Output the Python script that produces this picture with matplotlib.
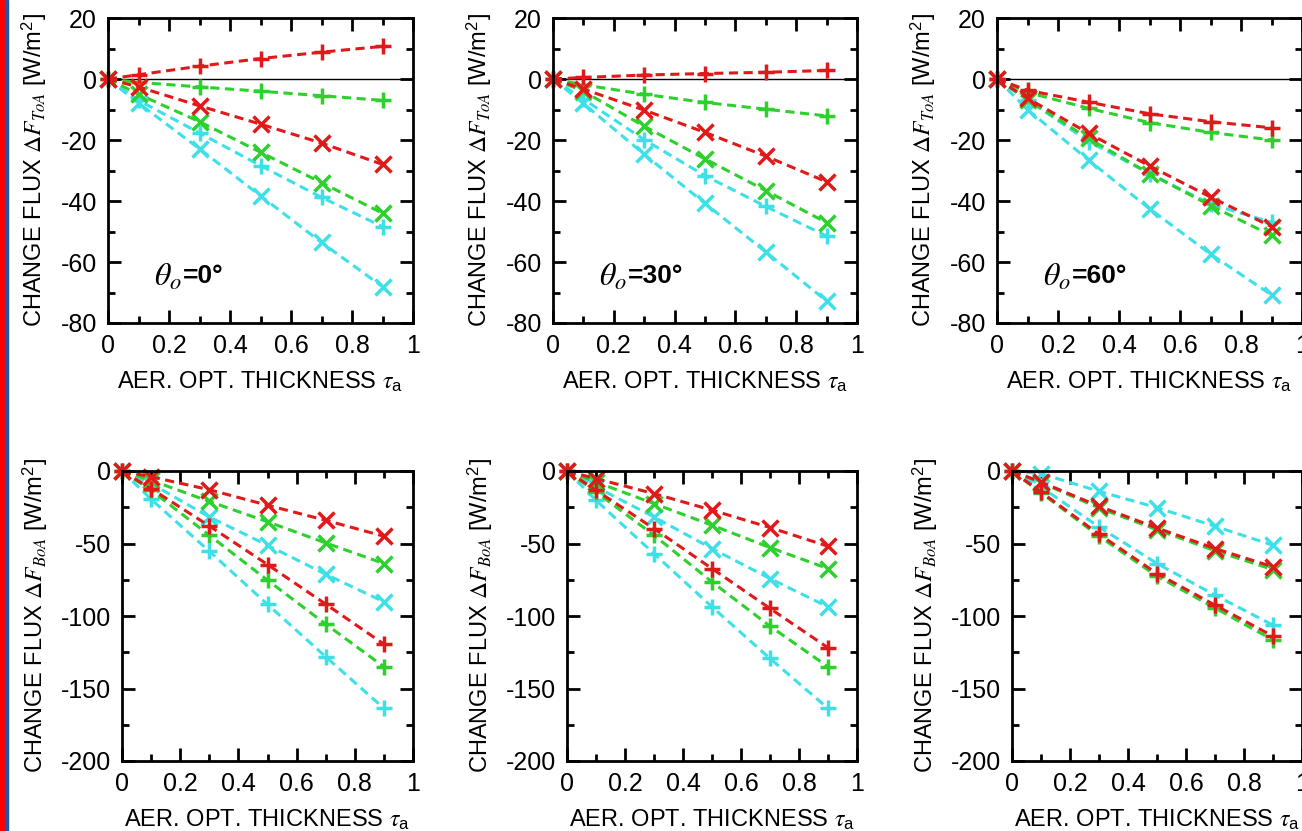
import matplotlib
matplotlib.use("Agg")
from matplotlib import pyplot as plt
from matplotlib.patches import Rectangle
from matplotlib.ticker import MultipleLocator

#Data : aerosol optical thickness and flux changes
TAU = [0, 0.1, 0.3, 0.5, 0.7, 0.9]
ANGLES = [0, 30, 60]

#order of the rows : red +, green +, cyan +, red x, green x, cyan x
toa_0 = [[0, 1.4, 4.2, 6.7, 8.8, 10.7],
         [0, -1.1, -2.6, -4.0, -5.5, -7.0],
         [0, -7.0, -17.7, -28.4, -38.8, -48.4],
         [0, -2.6, -8.8, -14.8, -21.0, -28.0],
         [0, -5.0, -14.0, -24.0, -34.0, -44.0],
         [0, -7.9, -22.9, -38.3, -53.6, -68.1]]
toa_30 = [[0, 0.5, 1.3, 1.8, 2.2, 2.8],
          [0, -1.9, -5.0, -7.7, -9.9, -12.1],
          [0, -6.6, -19.9, -31.7, -41.8, -51.5],
          [0, -3.3, -10.2, -17.5, -25.3, -33.7],
          [0, -4.0, -15.5, -26.2, -36.6, -47.1],
          [0, -8.0, -24.7, -40.8, -56.7, -72.8]]
toa_60 = [[0, -3.7, -7.6, -11.4, -14.0, -16.0],
          [0, -4.4, -9.6, -14.3, -17.5, -20.0],
          [0, -6.8, -20.5, -31.0, -41.0, -47.0],
          [0, -6.3, -17.8, -28.5, -38.7, -48.4],
          [0, -6.8, -19.5, -31.0, -41.5, -51.3],
          [0, -10.0, -26.6, -42.5, -57.4, -70.8]]
boa_0 = [[0, -12.2, -37.9, -64.5, -91.8, -119.4],
         [0, -13.3, -44.3, -75.3, -105.6, -135.0],
         [0, -19.5, -55.3, -92.0, -128.1, -163.7],
         [0, -4.0, -12.9, -23.6, -34.0, -45.0],
         [0, -6.4, -21.0, -35.0, -49.6, -63.8],
         [0, -8.7, -31.7, -51.2, -71.2, -90.2]]
boa_30 = [[0, -13.3, -39.7, -67.3, -94.8, -121.9],
          [0, -14.5, -44.3, -76.5, -107.0, -135.0],
          [0, -20.2, -57.0, -93.7, -129.3, -163.7],
          [0, -5.3, -15.6, -27.0, -39.0, -51.9],
          [0, -7.6, -22.5, -37.4, -52.8, -67.3],
          [0, -11.0, -31.7, -53.5, -74.2, -93.7]]
boa_60 = [[0, -14.5, -43.6, -70.7, -92.5, -113.9],
          [0, -15.0, -45.0, -72.5, -94.5, -116.5],
          [0, -11.0, -38.6, -63.8, -85.6, -106.3],
          [0, -7.6, -24.3, -39.3, -53.5, -66.1],
          [0, -8.0, -25.5, -40.5, -55.0, -68.0],
          [0, -1.8, -14.0, -25.3, -38.1, -51.2]]

TOA = [toa_0, toa_30, toa_60]
BOA = [boa_0, boa_30, boa_60]

COULEURS = ["#e01a1a", "#2ed02e", "#3ee0e8", "#e01a1a", "#2ed02e", "#3ee0e8"]
MARQUEURS = ["+", "+", "+", "x", "x", "x"]
ORDRE = [2, 5, 1, 4, 0, 3] #cyan first, red on top

plt.rcParams["font.family"] = ["Liberation Sans", "DejaVu Sans"]
plt.rcParams["mathtext.fontset"] = "stix"
plt.rcParams["axes.unicode_minus"] = False
plt.rcParams["axes.linewidth"] = 2

W, H = 1302, 831
fig = plt.figure(figsize=(W/100, H/100), dpi=100)

#red and blue stripe on the left border
fig.patches.append(Rectangle((0, 0), 5/W, 1, transform=fig.transFigure, color="#ff0000", zorder=10))
fig.patches.append(Rectangle((5/W, 0), 3/W, 1, transform=fig.transFigure, color="#2456a4", zorder=10))

#axes positions in pixels : left, right, top, bottom
HAUT = [(108, 413, 18, 323), (553, 857, 18, 323), (997, 1302, 18, 323)]
BAS = [(122, 413, 471, 761), (567, 857, 471, 761), (1012, 1302, 471, 761)]

def style(ax, ymin, ymax, major, minor) :
  ax.set_xlim(0, 1)
  ax.set_ylim(ymin, ymax)
  ax.xaxis.set_major_locator(MultipleLocator(0.2))
  ax.xaxis.set_minor_locator(MultipleLocator(0.1))
  ax.yaxis.set_major_locator(MultipleLocator(major))
  ax.yaxis.set_minor_locator(MultipleLocator(minor))
  ax.tick_params(which="both", direction="in", top=True, right=True, width=2, labelsize=18)
  ax.tick_params(which="major", length=9.5, pad=8)
  ax.tick_params(which="minor", length=5)
  ax.xaxis.set_major_formatter(plt.FuncFormatter(lambda v, p : "%g" % round(v, 2)))
  ax.set_xlabel(r"AER. OPT. THICKNESS $\tau_\mathregular{a}$", fontsize=17, labelpad=8)

for i in range(3) :
  for ligne, pos, donnees in [(0, HAUT[i], TOA[i]), (1, BAS[i], BOA[i])] :
    l, r, t, b = pos
    ax = fig.add_axes([l/W, 1 - b/H, (r - l)/W, (b - t)/H])
    for k in ORDRE :
      ax.plot(TAU, donnees[k], linestyle=(0, (3, 1.8)), lw=2.2, color=COULEURS[k],
              marker=MARQUEURS[k], markersize=12, markeredgewidth=2.5, clip_on=False)
    if ligne == 0 :
      ax.axhline(0, color="k", lw=1, zorder=0)
      style(ax, -80, 20, 20, 10)
      ax.set_ylabel(r"CHANGE FLUX $\Delta F_{ToA}$ [W/m$^\mathregular{2}$]", fontsize=17, labelpad=8)
      ax.text(0.15, -65, r"$\theta_o$", fontsize=23, va="center", ha="left")
      ax.text(0.245, -64.5, "=%d°" % ANGLES[i], fontsize=19, fontweight="bold", va="center", ha="left")
    else :
      style(ax, -200, 0, 50, 25)
      ax.set_ylabel(r"CHANGE FLUX $\Delta F_{BoA}$ [W/m$^\mathregular{2}$]", fontsize=17, labelpad=8)

fig.savefig("out.png", dpi=100)
